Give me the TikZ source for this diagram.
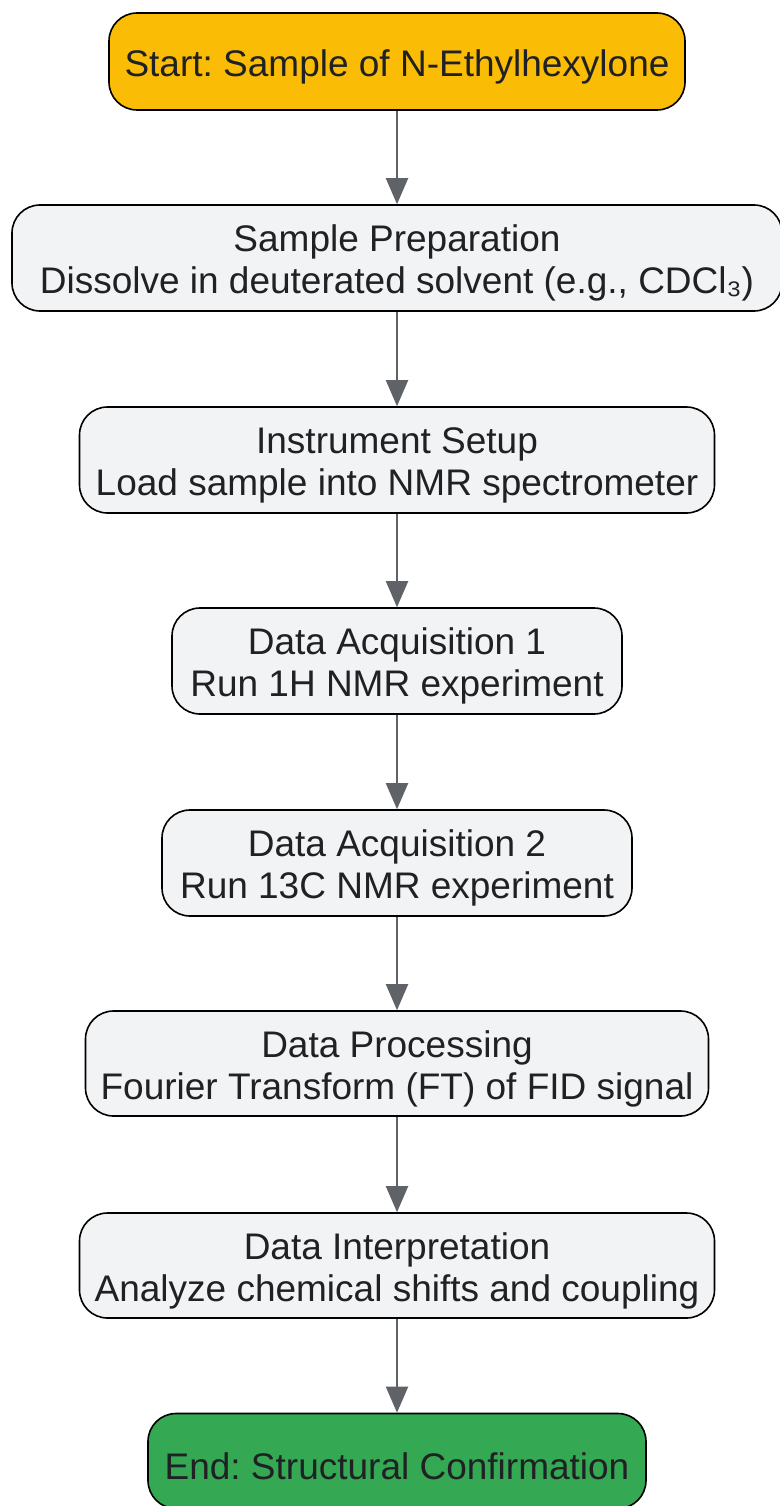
\documentclass[tikz,border=0pt]{standalone}
\usepackage{fontspec}
\setmainfont{Liberation Sans}
\usetikzlibrary{arrows.meta}
\definecolor{startc}{HTML}{FBBC05}
\definecolor{endc}{HTML}{34A853}
\definecolor{boxc}{HTML}{F1F3F4}
\definecolor{txtc}{HTML}{202124}
\definecolor{arrc}{HTML}{5F6368}
\frenchspacing
\newcommand{\topstrut}{\rule{0pt}{37pt}}
\tikzset{
  box/.style={draw=black, line width=1.6pt, rounded corners=28pt, fill=boxc, text=txtc,
    align=center, inner sep=0pt, font=\fontsize{37}{42}\selectfont},
  flow/.style={draw=arrc, line width=2pt, -{Triangle[length=26pt,width=22pt]}},
}
\begin{document}
\begin{tikzpicture}[x=1pt,y=1pt]
\useasboundingbox (0,0) rectangle (779,-1506);
\node[box, fill=startc, minimum width=576pt, minimum height=97pt] (start) at (397,-61.5) {\topstrut Start: Sample of N-Ethylhexylone};
\node[box, minimum width=770pt, minimum height=106pt] (prep) at (397,-258) {\topstrut Sample Preparation\\Dissolve in deuterated solvent (e.g., CDCl₃)};
\node[box, minimum width=635pt, minimum height=106pt] (setup) at (397,-460) {\topstrut Instrument Setup\\Load sample into NMR spectrometer};
\node[box, minimum width=450pt, minimum height=106pt] (acq1) at (397,-661) {\topstrut Data Acquisition 1\\Run 1H NMR experiment};
\node[box, minimum width=470pt, minimum height=106pt] (acq2) at (397,-863) {\topstrut Data Acquisition 2\\Run 13C NMR experiment};
\node[box, minimum width=623pt, minimum height=105pt] (proc) at (397,-1063.5) {\topstrut Data Processing\\Fourier Transform (FT) of FID signal};
\node[box, minimum width=635pt, minimum height=105pt] (interp) at (397,-1265.5) {\topstrut Data Interpretation\\Analyze chemical shifts and coupling};
\node[box, fill=endc, minimum width=498pt, minimum height=95pt] (end) at (397,-1461) {\topstrut End: Structural Confirmation};
\draw[flow] (start) -- (prep);
\draw[flow] (prep) -- (setup);
\draw[flow] (setup) -- (acq1);
\draw[flow] (acq1) -- (acq2);
\draw[flow] (acq2) -- (proc);
\draw[flow] (proc) -- (interp);
\draw[flow] (interp) -- (end);
\end{tikzpicture}
\end{document}
